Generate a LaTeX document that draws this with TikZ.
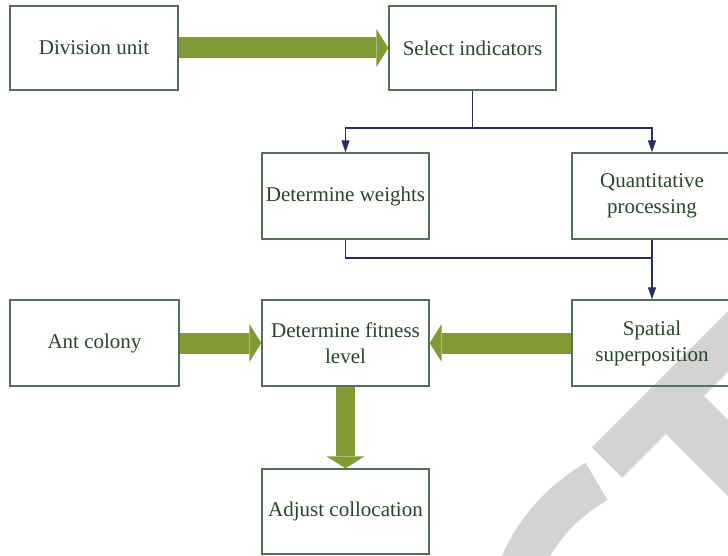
\documentclass[tikz,border=0pt]{standalone}
\usepackage{fontspec}
\setmainfont{Liberation Serif}
\usetikzlibrary{arrows.meta}
\definecolor{olive}{RGB}{128,154,52}
\definecolor{boxc}{RGB}{85,112,85}
\definecolor{txtc}{RGB}{38,70,42}
\definecolor{navyc}{RGB}{40,46,104}
\definecolor{wmc}{RGB}{211,211,211}
\tikzset{
  box/.style={draw=boxc, line width=1.3pt, inner sep=0pt, align=center,
    text=txtc, font=\fontsize{21}{26}\selectfont},
  fat/.style={draw=olive, line width=21pt,
    -{Triangle[width=38pt,length=12pt,line width=0pt]}},
  conn/.style={draw=navyc, line width=1.2pt},
  connarr/.style={conn, -{Triangle[width=8pt,length=12pt]}},
  wm/.style={draw=wmc, line cap=butt}
}
\begin{document}
\begin{tikzpicture}[x=1pt,y=-1pt]
\useasboundingbox (0,0) rectangle (728,556);
\clip (0,0) rectangle (728,556);
% watermark
\draw[wm, line width=43pt] (607,462.5) -- ++(170,-170);
\draw[wm, line width=54pt] (670.8,400.8) -- ++(130,130);
\draw[wm, line width=43pt] (684,636) ++(-119.5:177.5) arc[start angle=-119.5, end angle=-178, radius=177.5];
% nodes
\node[box, minimum width=168pt, minimum height=84pt] (du) at (94,48) {Division unit};
\node[box, minimum width=167pt, minimum height=84pt] (si) at (472.5,48) {Select indicators};
\node[box, minimum width=167pt, minimum height=86pt] (dw) at (345.5,196) {Determine weights};
\node[box, minimum width=160pt, minimum height=86pt] (qp) at (652,196) {Quantitative\\processing};
\node[box, minimum width=169pt, minimum height=86pt] (ac) at (94.5,343) {Ant colony};
\node[box, minimum width=167pt, minimum height=86pt] (df) at (345.5,343) {Determine fitness\\level};
\node[box, minimum width=160pt, minimum height=86pt] (sp) at (652,343) {Spatial\\superposition};
\node[box, minimum width=167pt, minimum height=85pt] (adj) at (345.5,511.5) {Adjust collocation};
% thick arrows
\draw[fat] (du) -- (si);
\draw[fat] (ac) -- (df);
\draw[fat] (sp) -- (df);
\draw[fat, line width=19pt] (df) -- (adj);
% thin connectors
\coordinate (j1) at (si.south |- 0,128);
\coordinate (j2) at (qp.south |- 0,258);
\draw[connarr] (si.south) -- (j1) -| (dw.north);
\draw[connarr] (j1) -| (qp.north);
\draw[conn] (dw.south) |- (j2);
\draw[connarr] (qp.south) -- (sp.north);
\end{tikzpicture}
\end{document}
